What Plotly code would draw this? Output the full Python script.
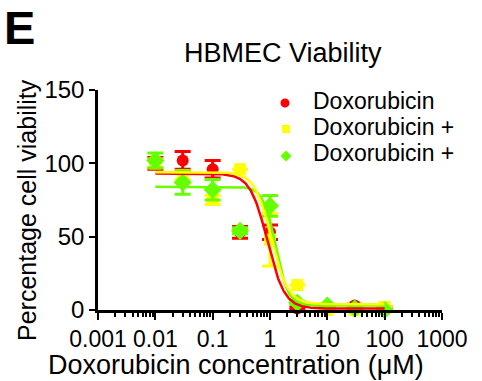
import numpy as np
import plotly.graph_objects as go

# ---- data ----
conc = [0.01, 0.03, 0.1, 0.3, 1, 3, 10, 30, 100]

red_y = [100, 102, 96, 53, 53, 1, 1, 3, 1]
red_err = [4, 6, 6, 4, 5, 1, 1, 1, 1]

yel_y = [100, 92, 75, 96, 48, 17, 0, 0, 2]
yel_err = [3, 3, 3, 0, 18, 0, 0, 0, 0]

grn_y = [102, 87, 82, 54, 71, 5, 3, 1, 0]
grn_err = [5, 8, 7, 2, 7, 1, 1, 1, 0]

# 4-parameter logistic fit parameters: top, bottom, IC50, Hill slope
red_fit = [93, 1, 0.9, 2.9]
yel_fit = [94, 4, 1.05, 3.0]
grn_fit = [84, 3, 1.25, 4.0]

series_names = ["Doxorubicin", "Doxorubicin +", "Doxorubicin +"]
colors = ["#ff0000", "#ffff00", "#66ff00"]
symbols = ["circle", "square", "diamond"]

x_ticks = [0.001, 0.01, 0.1, 1, 10, 100, 1000]
x_ticktext = ["0.001", "0.01", "0.1", "1", "10", "100", "1000"]
y_ticks = [0, 50, 100, 150]

FONT = "Liberation Sans, Arial, sans-serif"

# plot-area geometry in pixels
L, R, T, B = 98, 442, 90, 310
W, H = 482, 381


def px(x):
    return (x - L) / (R - L)


def py(y):
    return (B - y) / (B - T)


fig = go.Figure()

data_sets = [(red_y, red_err), (yel_y, yel_err), (grn_y, grn_err)]
sizes = [12, 12, 14]

for (ys, es), name, col, sym, sz in zip(data_sets, series_names, colors, symbols, sizes):
    fig.add_trace(go.Scatter(
        x=conc, y=ys, mode="markers", name=name, showlegend=False,
        marker=dict(color=col, symbol=sym, size=sz, line=dict(width=0)),
        error_y=dict(type="data", array=es, color=col, thickness=3, width=8),
        cliponaxis=False,
    ))

xc = np.logspace(np.log10(conc[0]), np.log10(conc[-1]), 300)
for fit, col in zip([grn_fit, red_fit, yel_fit], [colors[2], colors[0], colors[1]]):
    top, bot, ic50, h = fit
    yc = bot + (top - bot) / (1 + (xc / ic50) ** h)
    fig.add_trace(go.Scatter(x=xc, y=yc, mode="lines", showlegend=False,
                             line=dict(color=col, width=2.5), hoverinfo="skip",
                             cliponaxis=False))

# legend drawn as keys + text
legend_rows = [101, 127, 153]
shapes = []
cx, cy, r = 285, legend_rows[0] + 2, 4.5
shapes.append(dict(type="circle", xref="paper", yref="paper",
                   x0=px(cx - r), x1=px(cx + r), y0=py(cy + r), y1=py(cy - r),
                   fillcolor=colors[0], line=dict(width=0)))
cx, cy, r = 286, legend_rows[1] + 2, 4
shapes.append(dict(type="rect", xref="paper", yref="paper",
                   x0=px(cx - r), x1=px(cx + r), y0=py(cy + r), y1=py(cy - r),
                   fillcolor=colors[1], line=dict(width=0)))
cx, cy, r = 286, legend_rows[2] + 3, 5.5
path = "M {a},{b} L {c},{d} L {e},{f} L {g},{h} Z".format(
    a=px(cx), b=py(cy - r), c=px(cx + r), d=py(cy), e=px(cx), f=py(cy + r), g=px(cx - r), h=py(cy))
shapes.append(dict(type="path", xref="paper", yref="paper", path=path,
                   fillcolor=colors[2], line=dict(width=0)))

annotations = []
for name, yrow in zip(series_names, legend_rows):
    annotations.append(dict(text=name, x=px(311), y=py(yrow), xref="paper", yref="paper",
                            xanchor="left", yanchor="middle", showarrow=False,
                            font=dict(size=23, family=FONT)))

annotations += [
    dict(text="<b>E</b>", x=px(19), y=py(27), xref="paper", yref="paper", showarrow=False,
         xanchor="center", yanchor="middle", font=dict(size=47, family=FONT)),
    dict(text="HBMEC Viability", x=px(283), y=py(53), xref="paper", yref="paper",
         showarrow=False, xanchor="center", yanchor="middle", font=dict(size=27, family=FONT)),
    dict(text="Doxorubicin concentration (μM)", x=px(236), y=py(365), xref="paper", yref="paper",
         showarrow=False, xanchor="center", yanchor="middle", font=dict(size=27, family=FONT)),
    dict(text="Percentage cell viability", x=px(27), y=py(210), xref="paper", yref="paper",
         showarrow=False, xanchor="center", yanchor="middle", textangle=-90,
         font=dict(size=25, family=FONT)),
]

fig.update_layout(
    width=W, height=H,
    margin=dict(l=L, r=W - R, t=T, b=H - B),
    paper_bgcolor="white", plot_bgcolor="white",
    font=dict(family=FONT, color="black", size=24),
    showlegend=False,
    xaxis=dict(type="log", range=[-3, 3], tickvals=x_ticks, ticktext=x_ticktext,
               showline=True, linecolor="black", linewidth=2.5,
               ticks="outside", ticklen=7, tickwidth=2, tickcolor="black",
               minor=dict(ticks="outside", ticklen=4, tickwidth=1.5, tickcolor="black",
                          tickvals=[m * 10 ** e for e in range(-3, 3) for m in range(2, 10)]),
               showgrid=False, zeroline=False,
               tickfont=dict(size=23, family=FONT)),
    yaxis=dict(range=[0, 150], tickvals=y_ticks,
               showline=True, linecolor="black", linewidth=2.5,
               ticks="outside", ticklen=6, tickwidth=2, tickcolor="black",
               showgrid=False, zeroline=False,
               tickfont=dict(size=24, family=FONT)),
    shapes=shapes,
    annotations=annotations,
)

fig.write_html("out.html", config={"displayModeBar": False},
               post_script="document.body.style.margin='0px';")
